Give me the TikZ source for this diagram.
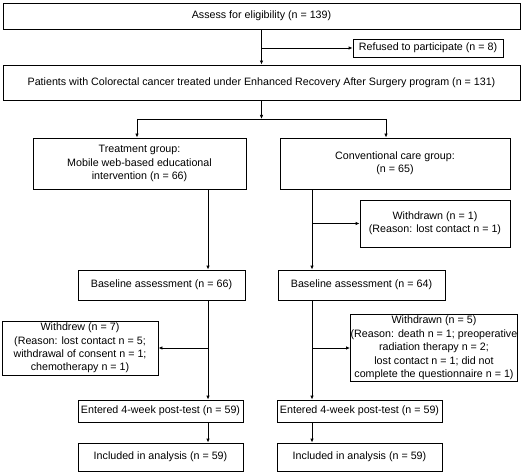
\documentclass[tikz,border=0pt]{standalone}
\usepackage{fontspec}
\setmainfont{Liberation Sans}
\usetikzlibrary{arrows.meta}
\begin{document}
\begin{tikzpicture}[x=1pt,y=-1pt,
  box/.style={draw, line width=0.8pt, align=center, inner sep=0pt, font=\fontsize{10.7}{13.4}\selectfont},
  arr/.style={line width=0.8pt, -{Latex[length=4pt,width=3.4pt]}},
  ln/.style={line width=0.8pt}]
\useasboundingbox (0,0) rectangle (525,476);
\node[box, minimum width=517pt, minimum height=26pt] (assess) at (261.5,16) {Assess for eligibility (n = 139)};
\node[box, minimum width=150pt, minimum height=18pt] (refused) at (428,48) {Refused to participate (n = 8)};
\node[box, minimum width=517pt, minimum height=35pt] (patients) at (261.5,82.5) {Patients with Colorectal cancer treated under Enhanced Recovery After Surgery program (n = 131)};
\node[box, minimum width=213pt, minimum height=51pt] (treat) at (139.5,163.5) {Treatment group:\\Mobile web-based educational\\intervention (n = 66)};
\node[box, minimum width=230pt, minimum height=51pt] (conv) at (395,163.5) {Conventional care group:\\(n = 65)};
\node[box, minimum width=150pt, minimum height=47pt] (wd1) at (435,223.5) {Withdrawn (n = 1)\\(Reason: lost contact n = 1)};
\node[box, minimum width=167pt, minimum height=30pt] (base1) at (161.5,285) {Baseline assessment (n = 66)};
\node[box, minimum width=167pt, minimum height=30pt] (base2) at (361.5,285) {Baseline assessment (n = 64)};
\node[box, minimum width=156pt, minimum height=54pt] (wdrew) at (80,348) {Withdrew (n = 7)\\(Reason: lost contact n = 5;\\withdrawal of consent n = 1;\\chemotherapy n = 1)};
\node[box, minimum width=167pt, minimum height=67pt] (wd5) at (434,348) {Withdrawn (n = 5)\\(Reason: death n = 1; preoperative\\radiation therapy n = 2;\\lost contact n = 1; did not\\complete the questionnaire n = 1)};
\node[box, minimum width=165pt, minimum height=22pt] (ent1) at (160.5,411) {Entered 4-week post-test (n = 59)};
\node[box, minimum width=165pt, minimum height=22pt] (ent2) at (359.5,411) {Entered 4-week post-test (n = 59)};
\node[box, minimum width=165pt, minimum height=28pt] (inc1) at (160.5,457) {Included in analysis (n = 59)};
\node[box, minimum width=165pt, minimum height=28pt] (inc2) at (359.5,457) {Included in analysis (n = 59)};
\coordinate (lx) at (208,0);
\coordinate (rx) at (312,0);
\coordinate (j1) at (261.5,48);
\coordinate (j2) at (261.5,119);
\coordinate (cl) at (137,119);
\coordinate (cr) at (386,119);
\draw[arr] (assess.south) -- (patients.north);
\draw[arr] (j1) -- (refused.west);
\draw[arr] (patients.south) -- (j2);
\draw[ln] (cl) -- (cr);
\draw[arr] (cl) -- (cl |- treat.north);
\draw[arr] (cr) -- (cr |- conv.north);
\draw[arr] (treat.south -| lx) -- (base1.north -| lx);
\draw[arr] (conv.south -| rx) -- (base2.north -| rx);
\draw[arr] (wd1.west -| rx) -- (wd1.west);
\draw[arr] (base1.south -| lx) -- (ent1.north -| lx);
\draw[arr] (wdrew.east -| lx) -- (wdrew.east);
\draw[arr] (base2.south -| rx) -- (ent2.north -| rx);
\draw[arr] (wd5.west -| rx) -- (wd5.west);
\draw[arr] (ent1.south -| lx) -- (inc1.north -| lx);
\draw[arr] (ent2.south -| rx) -- (inc2.north -| rx);
\end{tikzpicture}
\end{document}
